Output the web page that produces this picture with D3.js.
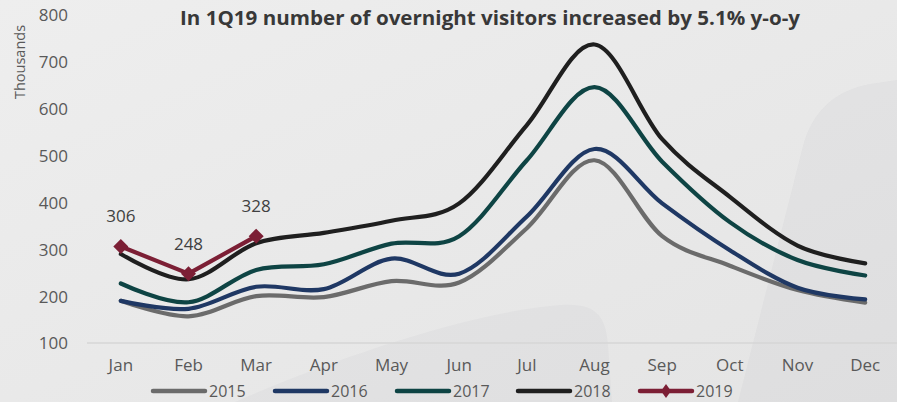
<!DOCTYPE html>
<html>
<head>
<meta charset="utf-8">
<script src="https://cdn.jsdelivr.net/npm/d3@7"></script>
<style>
  html, body { margin: 0; padding: 0; background: #e8e8e8; }
  svg { display: block; font-family: "Open Sans", "DejaVu Sans", sans-serif; }
</style>
</head>
<body>
<svg id="chart" width="897" height="402"></svg>
<script>
// Monthly overnight visitors, thousands
const months = ["Jan", "Feb", "Mar", "Apr", "May", "Jun", "Jul", "Aug", "Sep", "Oct", "Nov", "Dec"];
const y2015 = [190, 157, 200, 198, 232, 229, 345, 490, 328, 265, 213, 186];
const y2016 = [190, 173, 220, 215, 280, 248, 370, 514, 398, 298, 218, 193];
const y2017 = [227, 187, 256, 268, 312, 328, 490, 646, 487, 358, 277, 244];
const y2018 = [290, 236, 313, 335, 361, 398, 565, 737, 535, 412, 308, 270];
const y2019 = [306, 248, 328];
const seriesNames = ["2015", "2016", "2017", "2018", "2019"];
const yTicks = [100, 200, 300, 400, 500, 600, 700, 800];
const titleText = "In 1Q19 number of overnight visitors increased by 5.1% y-o-y";
const yAxisTitle = "Thousands";

const colors = {
  "2015": "#6b6b6b",
  "2016": "#1f3864",
  "2017": "#0e4444",
  "2018": "#1f1f1f",
  "2019": "#7c1f35"
};

const series = [
  { name: "2015", values: y2015, smooth: true },
  { name: "2016", values: y2016, smooth: true },
  { name: "2017", values: y2017, smooth: true },
  { name: "2018", values: y2018, smooth: true },
  { name: "2019", values: y2019, smooth: false, markers: true, labels: true }
];

const svg = d3.select("#chart");
const W = 897, H = 402;

// background
const defs = svg.append("defs");
const bg = defs.append("linearGradient").attr("id", "bg")
  .attr("x1", "0").attr("y1", "0").attr("x2", "1").attr("y2", "1");
bg.append("stop").attr("offset", "0%").attr("stop-color", "#eeeeee");
bg.append("stop").attr("offset", "100%").attr("stop-color", "#e4e4e4");
svg.append("rect").attr("width", W).attr("height", H).attr("fill", "url(#bg)");

// soft decorative shapes behind the plot
svg.append("path")
  .attr("d", "M 235,402 C 330,360 470,312 560,305 C 598,302 606,318 608,345 L 612,402 Z")
  .attr("fill", "#5a6070").attr("fill-opacity", 0.035);
svg.append("path")
  .attr("d", "M 738,402 L 802,150 C 812,108 838,90 870,84 L 897,80 L 897,402 Z")
  .attr("fill", "#5a6070").attr("fill-opacity", 0.045);

// scales
const x = d3.scaleBand().domain(months).range([87, 899]).padding(0);
const cx = m => x(m) + x.bandwidth() / 2;
const y = d3.scaleLinear().domain([100, 800]).range([343, 15]);

// baseline
svg.append("line")
  .attr("x1", 87).attr("x2", W)
  .attr("y1", y(100)).attr("y2", y(100))
  .attr("stroke", "#d6d6d6").attr("stroke-width", 1.5);

// y axis labels
const yAxis = d3.axisLeft(y).tickValues(yTicks).tickSize(0).tickPadding(0);
const yg = svg.append("g").attr("transform", "translate(68,0)").call(yAxis);
yg.select(".domain").remove();
yg.selectAll("text")
  .attr("fill", "#595959").attr("font-size", 17)
  .attr("font-family", "'Open Sans', sans-serif")
  .attr("dy", "0.35em");

svg.append("text")
  .attr("transform", `translate(25,62) rotate(-90)`)
  .attr("text-anchor", "middle")
  .attr("fill", "#595959")
  .attr("font-size", 14.5)
  .text(yAxisTitle);

// x axis labels
const xAxis = d3.axisBottom(x).tickSize(0).tickPadding(0);
const xg = svg.append("g").attr("transform", "translate(0,359)").call(xAxis);
xg.select(".domain").remove();
xg.selectAll("text")
  .attr("fill", "#595959").attr("font-size", 17)
  .attr("font-family", "'Open Sans', sans-serif")
  .attr("dy", "0.71em");

// title
svg.append("text")
  .attr("x", 490).attr("y", 25)
  .attr("text-anchor", "middle")
  .attr("fill", "#383838")
  .attr("font-size", 19).attr("font-weight", 700)
  .attr("textLength", 620).attr("lengthAdjust", "spacingAndGlyphs")
  .text(titleText);

// lines
const smoothLine = d3.line()
  .x((d, i) => cx(months[i]))
  .y(d => y(d))
  .curve(d3.curveCardinal.tension(0));
const straightLine = d3.line()
  .x((d, i) => cx(months[i]))
  .y(d => y(d));

const diamond = (s) => `M0,${-s}L${s},0L0,${s}L${-s},0Z`;

series.forEach(s => {
  svg.append("path")
    .attr("d", (s.smooth ? smoothLine : straightLine)(s.values))
    .attr("fill", "none")
    .attr("stroke", colors[s.name])
    .attr("stroke-width", 4.2)
    .attr("stroke-linecap", "round")
    .attr("stroke-linejoin", "round");
  if (s.markers) {
    svg.selectAll(null).data(s.values).enter().append("path")
      .attr("d", diamond(7.5))
      .attr("transform", (d, i) => `translate(${cx(months[i])},${y(d)})`)
      .attr("fill", colors[s.name]);
  }
  if (s.labels) {
    svg.selectAll(null).data(s.values).enter().append("text")
      .attr("x", (d, i) => cx(months[i]))
      .attr("y", d => y(d) - 30)
      .attr("dy", "0.35em")
      .attr("text-anchor", "middle")
      .attr("fill", "#404040")
      .attr("font-size", 17)
      .text(d => d);
  }
});

// legend
const legendX = [151, 273, 395, 516, 638];
const legendY = 391;
const lg = svg.append("g");
seriesNames.forEach((name, i) => {
  const g = lg.append("g").attr("transform", `translate(${legendX[i]},${legendY})`);
  g.append("line")
    .attr("x1", 2).attr("x2", 54)
    .attr("stroke", colors[name]).attr("stroke-width", 4.5)
    .attr("stroke-linecap", "round");
  if (name === "2019") {
    g.append("path")
      .attr("d", "M0,-7L5,0L0,7L-5,0Z")
      .attr("transform", "translate(28,0)")
      .attr("fill", colors[name]);
  }
  g.append("text")
    .attr("x", 58).attr("y", 0).attr("dy", "0.35em")
    .attr("fill", "#595959").attr("font-size", 16)
    .text(name);
});
</script>
</body>
</html>
